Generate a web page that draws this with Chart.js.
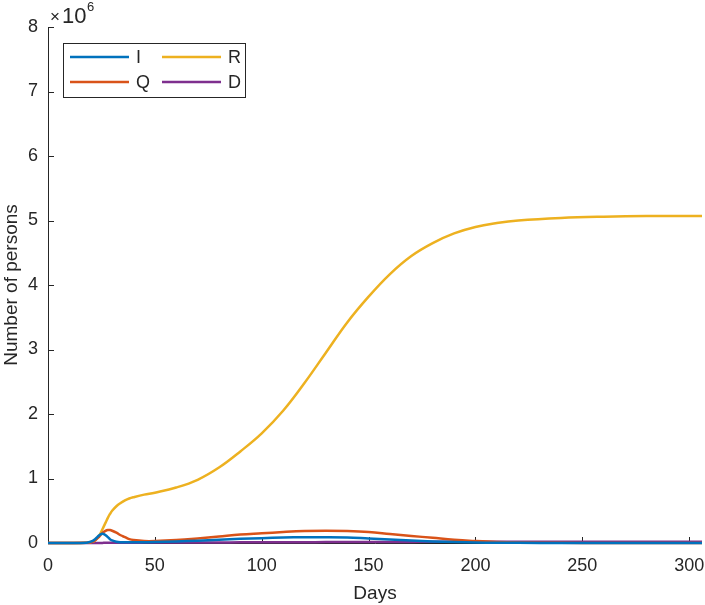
<!DOCTYPE html>
<html>
<head>
<meta charset="utf-8">
<script src="https://cdn.jsdelivr.net/npm/chart.js@4/dist/chart.umd.min.js"></script>
<style>
  html, body { margin: 0; padding: 0; background: #fff; }
  #wrap { width: 705px; height: 605px; }
</style>
</head>
<body>
<div id="wrap"><canvas id="c"></canvas></div>
<script>
// values in units of 10^6 persons
const days = [0, 10, 18, 20, 22, 24, 25, 26, 27, 28, 29, 30, 32, 34, 36, 38, 40, 45, 50, 60, 70, 80, 90, 100, 110, 120, 130, 140, 150, 160, 170, 180, 190, 200, 210, 220, 240, 260, 280, 306];
const infected = [0, 0, 0.005, 0.02, 0.06, 0.12, 0.14, 0.14, 0.12, 0.09, 0.06, 0.04, 0.02, 0.012, 0.01, 0.01, 0.01, 0.012, 0.015, 0.025, 0.035, 0.05, 0.065, 0.075, 0.085, 0.09, 0.09, 0.085, 0.07, 0.055, 0.04, 0.025, 0.015, 0.008, 0.004, 0.002, 0.001, 0, 0, 0];
const quarantined = [0, 0, 0.003, 0.01, 0.04, 0.1, 0.14, 0.17, 0.19, 0.2, 0.2, 0.19, 0.16, 0.12, 0.09, 0.06, 0.045, 0.03, 0.03, 0.045, 0.07, 0.1, 0.13, 0.15, 0.17, 0.185, 0.19, 0.185, 0.17, 0.14, 0.11, 0.08, 0.05, 0.03, 0.015, 0.008, 0.003, 0.001, 0, 0];
const recovered = [0, 0, 0.005, 0.015, 0.04, 0.12, 0.18, 0.25, 0.32, 0.39, 0.45, 0.5, 0.57, 0.62, 0.66, 0.69, 0.71, 0.75, 0.78, 0.86, 0.98, 1.17, 1.42, 1.7, 2.05, 2.48, 2.95, 3.42, 3.82, 4.17, 4.45, 4.65, 4.8, 4.9, 4.96, 5.0, 5.04, 5.06, 5.07, 5.07];
const dead = [0, 0, 0, 0, 0, 0.001, 0.001, 0.002, 0.002, 0.003, 0.003, 0.004, 0.004, 0.005, 0.005, 0.005, 0.005, 0.006, 0.006, 0.007, 0.008, 0.009, 0.01, 0.011, 0.012, 0.013, 0.014, 0.015, 0.016, 0.017, 0.017, 0.018, 0.018, 0.018, 0.018, 0.018, 0.018, 0.018, 0.018, 0.018];
const seriesNames = ["I", "Q", "R", "D"];
const seriesColors = ["#0072BD", "#D95319", "#EDB120", "#7E2F8E"];
const xTicks = [0, 50, 100, 150, 200, 250, 300];
const yTicks = [0, 1, 2, 3, 4, 5, 6, 7, 8];

const FONT = "'Liberation Sans', Arial, Helvetica, sans-serif";
const TXT = "#262626";

function pts(vals) {
    return days.map((d, i) => ({x: d, y: vals[i]}));
}

const allSeries = [infected, quarantined, recovered, dead];

// axis lines with inward ticks (box off), exponent label and legend
const matlabDeco = {
    id: "matlabDeco",
    beforeDatasetsDraw(chart) {
        const ctx = chart.ctx;
        const a = chart.chartArea;
        const xs = chart.scales.x, ys = chart.scales.y;
        ctx.save();
        ctx.strokeStyle = "#262626";
        ctx.lineWidth = 1;
        ctx.beginPath();
        ctx.moveTo(a.left + 0.5, a.top);
        ctx.lineTo(a.left + 0.5, a.bottom + 0.5);
        ctx.lineTo(a.right, a.bottom + 0.5);
        xTicks.forEach(v => {
            const px = Math.round(xs.getPixelForValue(v)) + 0.5;
            ctx.moveTo(px, a.bottom); ctx.lineTo(px, a.bottom - 6);
        });
        yTicks.forEach(v => {
            const py = Math.round(ys.getPixelForValue(v)) + 0.5;
            ctx.moveTo(a.left, py); ctx.lineTo(a.left + 6, py);
        });
        ctx.stroke();
        ctx.restore();
    },
    afterDraw(chart) {
        const ctx = chart.ctx;
        const a = chart.chartArea;
        ctx.save();
        // x10^6
        ctx.fillStyle = TXT;
        ctx.textBaseline = "alphabetic";
        ctx.textAlign = "left";
        ctx.font = "17px " + FONT;
        ctx.fillText("\u00d7", 50, 22);
        ctx.font = "22px " + FONT;
        ctx.fillText("10", 62, 23);
        ctx.font = "13px " + FONT;
        ctx.fillText("6", 87, 11);

        // legend
        const lx = a.left + 15, ly = a.top + 16, lw = 182, lh = 54;
        ctx.fillStyle = "#fff";
        ctx.fillRect(lx, ly, lw, lh);
        ctx.strokeStyle = "#262626";
        ctx.lineWidth = 1;
        ctx.strokeRect(lx + 0.5, ly + 0.5, lw, lh);
        const pos = [[0, 0], [0, 1], [1, 0], [1, 1]];
        ctx.font = "18px " + FONT;
        ctx.textBaseline = "middle";
        ctx.lineWidth = 2.5;
        seriesNames.forEach((name, i) => {
            const cx = lx + 7 + pos[i][0] * 92;
            const cy = ly + 14 + pos[i][1] * 25;
            ctx.strokeStyle = seriesColors[i];
            ctx.beginPath();
            ctx.moveTo(cx, cy); ctx.lineTo(cx + 59, cy);
            ctx.stroke();
            ctx.fillStyle = TXT;
            ctx.fillText(name, cx + 66, cy + 1);
        });
        ctx.restore();
    }
};

new Chart(document.getElementById("c"), {
    type: "line",
    data: {
        datasets: seriesNames.map((name, i) => ({
            label: name,
            data: pts(allSeries[i]),
            borderColor: seriesColors[i],
            backgroundColor: seriesColors[i],
            borderWidth: 2.5,
            pointRadius: 0,
            fill: false,
            tension: 0.4,
            clip: false
        }))
    },
    options: {
        animation: false,
        responsive: true,
        maintainAspectRatio: false,
        layout: {padding: {top: 27, right: 3, left: 0, bottom: 0}},
        scales: {
            x: {
                type: "linear",
                min: 0,
                max: 306,
                afterBuildTicks: s => { s.ticks = xTicks.map(v => ({value: v})); },
                afterFit: s => { s.height = 62; s.paddingLeft = 0; s.paddingRight = 0; },
                grid: {display: false, drawTicks: false},
                border: {display: false},
                ticks: {color: TXT, padding: 12, maxRotation: 0, font: {family: FONT, size: 18}},
                title: {display: true, text: "Days", color: TXT, padding: {top: 4, bottom: 0}, font: {family: FONT, size: 19}}
            },
            y: {
                min: 0,
                max: 8,
                afterBuildTicks: s => { s.ticks = yTicks.map(v => ({value: v})); },
                afterFit: s => { s.width = 48; s.paddingTop = 0; s.paddingBottom = 0; },
                grid: {display: false, drawTicks: false},
                border: {display: false},
                ticks: {color: TXT, padding: 10, font: {family: FONT, size: 18}},
                title: {display: true, text: "Number of persons", color: TXT, padding: {top: 0, bottom: 0}, font: {family: FONT, size: 19}}
            }
        },
        plugins: {
            legend: {display: false},
            tooltip: {enabled: false}
        }
    },
    plugins: [matlabDeco]
});
</script>
</body>
</html>
